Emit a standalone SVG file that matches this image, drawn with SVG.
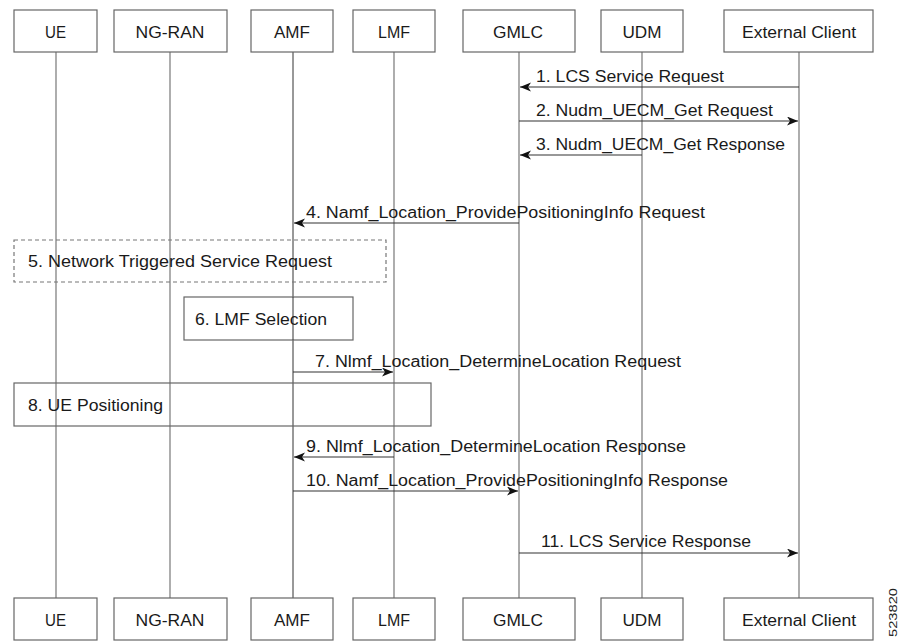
<svg xmlns="http://www.w3.org/2000/svg" width="900" height="642" viewBox="0 0 900 642">
<style>
  .box{fill:#fff;stroke:#666;stroke-width:1.2}
  .dash{fill:none;stroke:#777;stroke-width:1.2;stroke-dasharray:4 3}
  .life{stroke:#777;stroke-width:1.2;fill:none}
  .lifed{stroke:#333;stroke-width:1;fill:none}
  .msg{stroke:#333;stroke-width:1.1;fill:none;marker-end:url(#arr)}
  .lbl{font-family:"Liberation Sans",Arial,sans-serif;font-size:16px;fill:#1a1a1a}
  .nm{font-family:"Liberation Sans",Arial,sans-serif;font-size:16px;fill:#1a1a1a;text-anchor:middle}
</style>
<defs>
  <marker id="arr" markerWidth="12" markerHeight="10" refX="11" refY="4.5" orient="auto" markerUnits="userSpaceOnUse">
    <path d="M0,0 L11,4.5 L0,9 L3,4.5 Z" fill="#111"/>
  </marker>
</defs>
<rect width="900" height="642" fill="#fff"/>

<g id="lifelines">
  <line class="life" x1="56" y1="52" x2="56" y2="598"/>
  <line class="life" x1="170" y1="52" x2="170" y2="598"/>
  <line class="lifed" x1="293" y1="52" x2="293" y2="598"/>
  <line class="life" x1="394" y1="52" x2="394" y2="598"/>
  <line class="life" x1="519" y1="52" x2="519" y2="598"/>
  <line class="life" x1="642" y1="52" x2="642" y2="598"/>
  <line class="life" x1="799" y1="52" x2="799" y2="598"/>
</g>

<g id="node-UE-top"><rect class="box" x="14" y="10" width="83" height="42"/><text class="nm" x="55.5" y="37.5" textLength="21" lengthAdjust="spacingAndGlyphs">UE</text></g>
<g id="node-NGRAN-top"><rect class="box" x="114" y="10" width="113" height="42"/><text class="nm" x="170" y="37.5" textLength="69" lengthAdjust="spacingAndGlyphs">NG-RAN</text></g>
<g id="node-AMF-top"><rect class="box" x="251" y="10" width="82" height="42"/><text class="nm" x="292" y="37.5" textLength="36" lengthAdjust="spacingAndGlyphs">AMF</text></g>
<g id="node-LMF-top"><rect class="box" x="353" y="10" width="82" height="42"/><text class="nm" x="394" y="37.5" textLength="32" lengthAdjust="spacingAndGlyphs">LMF</text></g>
<g id="node-GMLC-top"><rect class="box" x="463" y="10" width="112" height="42"/><text class="nm" x="518" y="37.5" textLength="50" lengthAdjust="spacingAndGlyphs">GMLC</text></g>
<g id="node-UDM-top"><rect class="box" x="601" y="10" width="82" height="42"/><text class="nm" x="642" y="37.5" textLength="39" lengthAdjust="spacingAndGlyphs">UDM</text></g>
<g id="node-EC-top"><rect class="box" x="724" y="10" width="149" height="42"/><text class="nm" x="799" y="37.5" textLength="114" lengthAdjust="spacingAndGlyphs">External Client</text></g>

<g id="node-UE-bottom"><rect class="box" x="14" y="598" width="83" height="42"/><text class="nm" x="55.5" y="625.5" textLength="21" lengthAdjust="spacingAndGlyphs">UE</text></g>
<g id="node-NGRAN-bottom"><rect class="box" x="114" y="598" width="113" height="42"/><text class="nm" x="170" y="625.5" textLength="69" lengthAdjust="spacingAndGlyphs">NG-RAN</text></g>
<g id="node-AMF-bottom"><rect class="box" x="251" y="598" width="82" height="42"/><text class="nm" x="292" y="625.5" textLength="36" lengthAdjust="spacingAndGlyphs">AMF</text></g>
<g id="node-LMF-bottom"><rect class="box" x="353" y="598" width="82" height="42"/><text class="nm" x="394" y="625.5" textLength="32" lengthAdjust="spacingAndGlyphs">LMF</text></g>
<g id="node-GMLC-bottom"><rect class="box" x="463" y="598" width="112" height="42"/><text class="nm" x="518" y="625.5" textLength="50" lengthAdjust="spacingAndGlyphs">GMLC</text></g>
<g id="node-UDM-bottom"><rect class="box" x="601" y="598" width="82" height="42"/><text class="nm" x="642" y="625.5" textLength="39" lengthAdjust="spacingAndGlyphs">UDM</text></g>
<g id="node-EC-bottom"><rect class="box" x="724" y="598" width="149" height="42"/><text class="nm" x="799" y="625.5" textLength="114" lengthAdjust="spacingAndGlyphs">External Client</text></g>

<g id="step5"><rect class="dash" x="14" y="240" width="372" height="42"/><text class="lbl" x="28" y="267" textLength="304" lengthAdjust="spacingAndGlyphs">5. Network Triggered Service Request</text></g>
<g id="step6"><rect class="box" x="184" y="297" width="169" height="43"/><line class="lifed" x1="293" y1="297" x2="293" y2="340"/><text class="lbl" x="195" y="325" textLength="132" lengthAdjust="spacingAndGlyphs">6. LMF Selection</text></g>
<g id="step8"><rect class="box" x="14" y="383" width="417" height="43" fill="none" style="fill:none"/><text class="lbl" x="28" y="411" textLength="135" lengthAdjust="spacingAndGlyphs">8. UE Positioning</text></g>

<g id="connectors">
  <line class="msg" x1="799" y1="87" x2="520" y2="87"/>
  <line class="msg" x1="519" y1="121" x2="798" y2="121"/>
  <line class="msg" x1="642" y1="155" x2="520" y2="155"/>
  <line class="msg" x1="519" y1="223" x2="294" y2="223"/>
  <line class="msg" x1="293" y1="372" x2="393" y2="372"/>
  <line class="msg" x1="394" y1="457" x2="294" y2="457"/>
  <line class="msg" x1="293" y1="491" x2="518" y2="491"/>
  <line class="msg" x1="519" y1="553" x2="798" y2="553"/>
</g>

<g id="labels">
  <text class="lbl" x="536" y="82" textLength="188" lengthAdjust="spacingAndGlyphs">1. LCS Service Request</text>
  <text class="lbl" x="536" y="116" textLength="237" lengthAdjust="spacingAndGlyphs">2. Nudm_UECM_Get Request</text>
  <text class="lbl" x="536" y="150" textLength="249" lengthAdjust="spacingAndGlyphs">3. Nudm_UECM_Get Response</text>
  <text class="lbl" x="306" y="218" textLength="399" lengthAdjust="spacingAndGlyphs">4. Namf_Location_ProvidePositioningInfo Request</text>
  <text class="lbl" x="315" y="367" textLength="366" lengthAdjust="spacingAndGlyphs">7. Nlmf_Location_DetermineLocation Request</text>
  <text class="lbl" x="306" y="452" textLength="380" lengthAdjust="spacingAndGlyphs">9. Nlmf_Location_DetermineLocation Response</text>
  <text class="lbl" x="306" y="486" textLength="422" lengthAdjust="spacingAndGlyphs">10. Namf_Location_ProvidePositioningInfo Response</text>
  <text class="lbl" x="541" y="547" textLength="210" lengthAdjust="spacingAndGlyphs">11. LCS Service Response</text>
</g>

<text x="897" y="637" transform="rotate(-90 897 637)" font-family="Liberation Sans, Arial, sans-serif" font-size="11" fill="#222" textLength="49" lengthAdjust="spacingAndGlyphs">523820</text>
</svg>
